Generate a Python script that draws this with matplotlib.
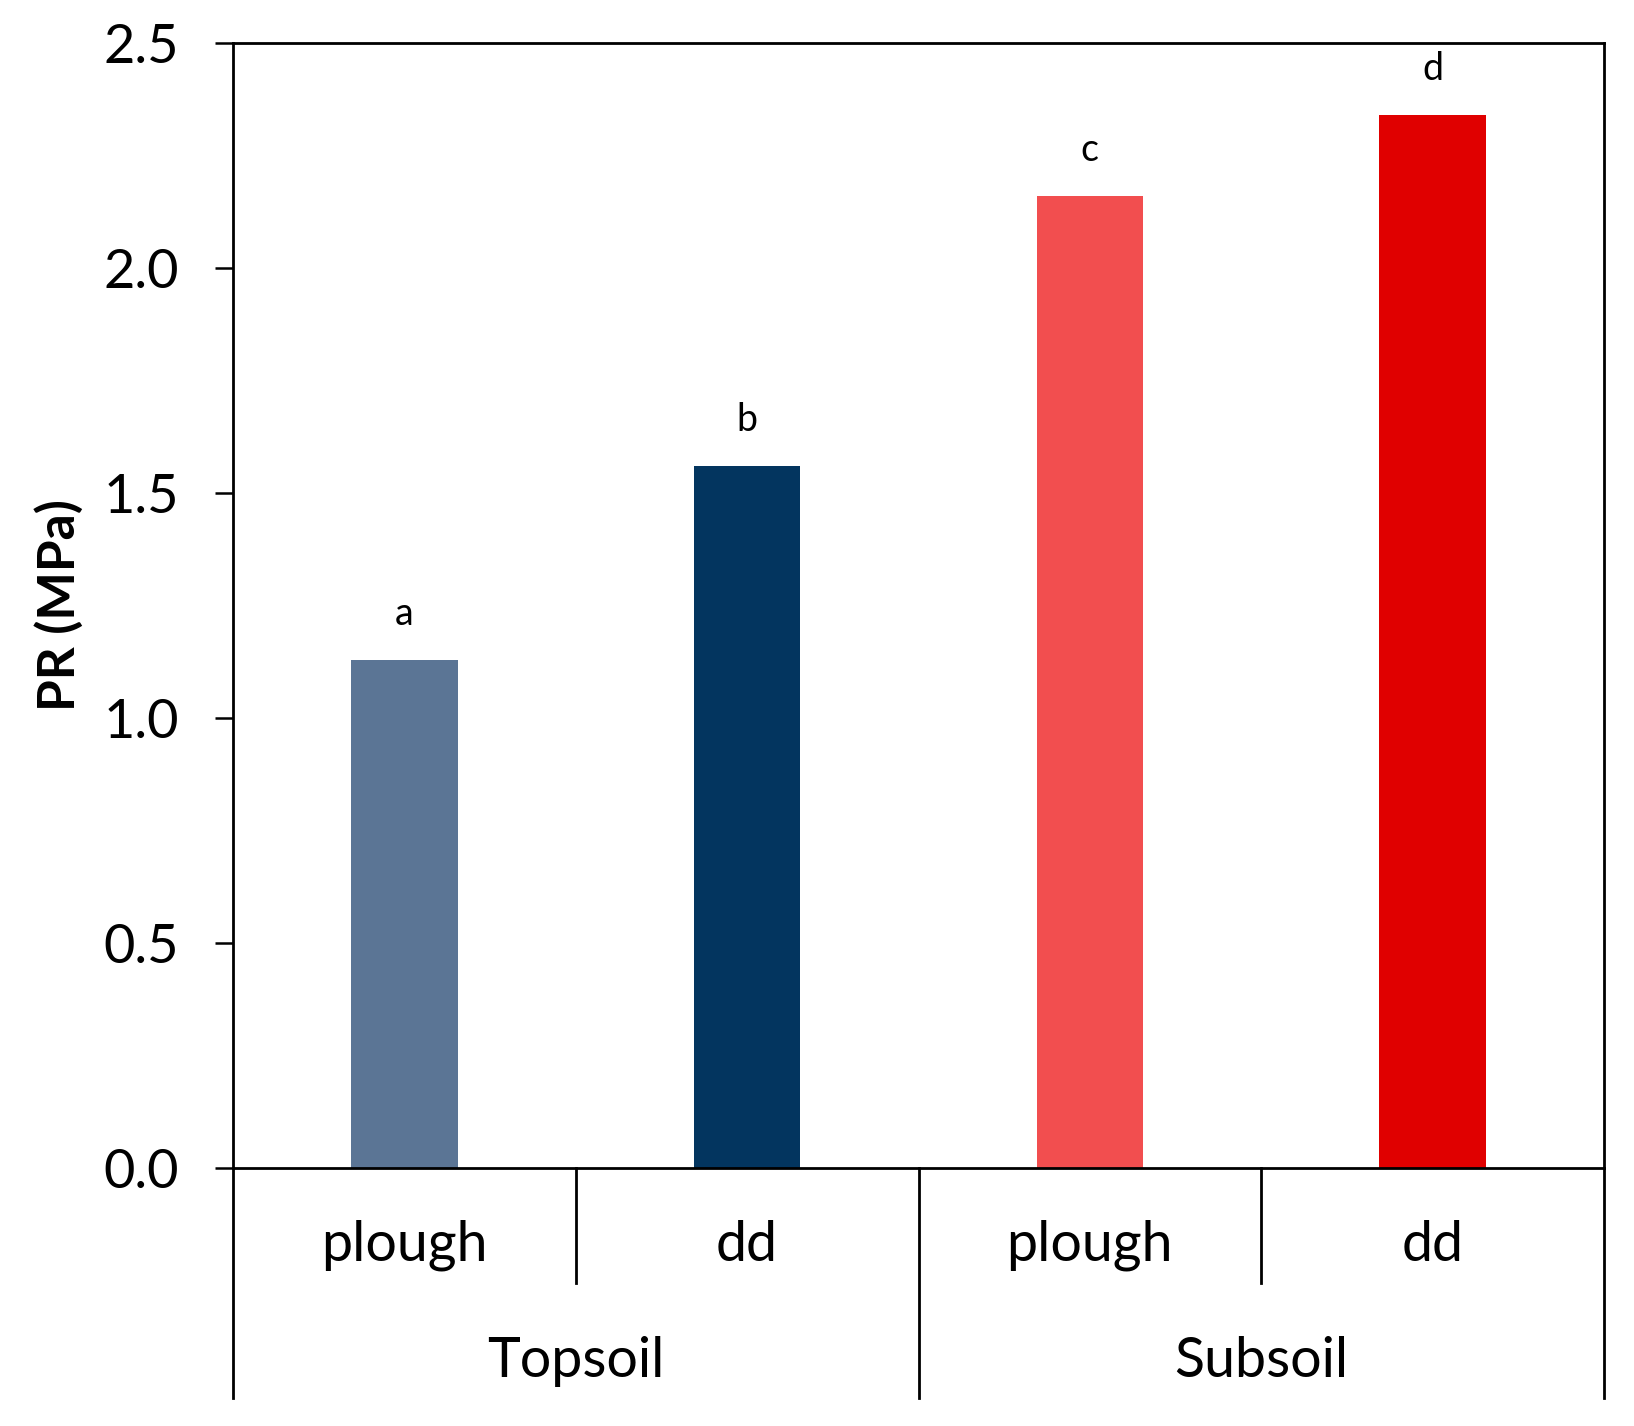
import matplotlib
matplotlib.use('Agg')
import matplotlib.pyplot as plt

# dati
treatments = ['plough', 'dd', 'plough', 'dd']
layers = ['Topsoil', 'Subsoil']
pr_values = [1.13, 1.56, 2.16, 2.34]
letters = ['a', 'b', 'c', 'd']
bar_colors = ['#5B7595', '#03355F', '#F24E4F', '#E00000']
yticks = [0.0, 0.5, 1.0, 1.5, 2.0, 2.5]

plt.rcParams['font.family'] = ['Lato', 'DejaVu Sans']

W, H = 1634, 1426
fig = plt.figure(figsize=(W / 100, H / 100), dpi=100)
ax = fig.add_axes([233 / W, (H - 1168) / H, (1604 - 233) / W, (1168 - 43) / H])

x = list(range(len(pr_values)))
bars = ax.bar(x, pr_values, width=0.31, color=bar_colors, zorder=2)

for xi, v, lab in zip(x, pr_values, letters):
    ax.annotate(lab, (xi, v), xytext=(0, 20), textcoords='offset points',
                ha='center', va='bottom', fontsize=27)

ax.set_xlim(-0.5, 3.5)
ax.set_ylim(0, 2.5)
ax.set_yticks(yticks)
ax.set_yticklabels([f'{t:.1f}' for t in yticks], fontsize=39)
ax.tick_params(axis='y', direction='out', length=13, width=1.8, pad=26)
ax.set_xticks([])
ax.set_ylabel('PR (MPa)', fontsize=37, fontweight='bold', labelpad=14)

for s in ax.spines.values():
    s.set_linewidth(2)
    s.set_color('black')

# divisori delle categorie sotto l'asse
trans = ax.get_xaxis_transform()
for xs in [0.5, 2.5]:
    ax.plot([xs, xs], [0, -0.102], transform=trans, color='black', lw=2, clip_on=False)
for xs in [-0.5, 1.5, 3.5]:
    ax.plot([xs, xs], [0, -0.204], transform=trans, color='black', lw=2, clip_on=False)

for xi, t in zip(x, treatments):
    ax.text(xi, -0.069, t, transform=trans, ha='center', va='center', fontsize=40)
for gi, g in enumerate(layers):
    ax.text(gi * 2 + 0.5, -0.172, g, transform=trans, ha='center', va='center', fontsize=40)

fig.savefig('out.png', dpi=100)
